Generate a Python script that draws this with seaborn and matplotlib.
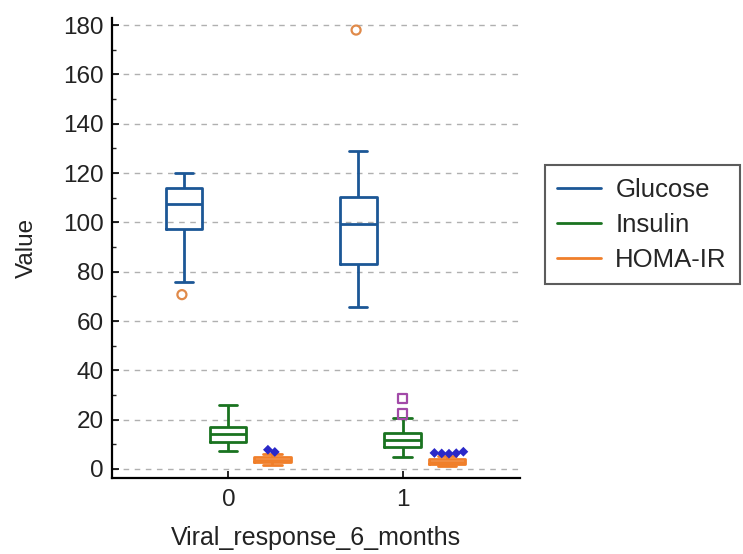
import matplotlib
matplotlib.use("Agg")
import matplotlib.pyplot as plt
import seaborn as sns
import pandas as pd
from matplotlib.lines import Line2D
from matplotlib.ticker import MultipleLocator

# ---- data (five-number summaries) ----
groups = ["0", "1"]
variables = ["Glucose", "Insulin", "HOMA-IR"]
# [whisker low, Q1, median, Q3, whisker high]
glucose_0 = [76, 97.5, 107.3, 113.8, 120]
glucose_1 = [65.8, 83, 99.5, 110.5, 128.8]
insulin_0 = [7.3, 11, 14.2, 17, 25.8]
insulin_1 = [4.9, 9, 11.8, 14.6, 20.7]
homa_0 = [1.5, 2.8, 3.8, 4.9, 6.0]
homa_1 = [1.2, 2.0, 3.0, 4.0, 5.2]
# outliers
glucose_out_0 = [70.7]
glucose_out_1 = [178]
insulin_out_0 = []
insulin_out_1 = [22.3, 28.4]
homa_out_0 = [6.9, 7.8]
homa_out_1 = [6.2, 6.3, 6.4, 6.5, 7.0]

box_colors = {"Glucose": "#1c5796", "Insulin": "#1a7320", "HOMA-IR": "#f07f2a"}
out_colors = {"Glucose": "#e08a4a", "Insulin": "#a24aa8", "HOMA-IR": "#2a28c8"}
out_markers = {"Glucose": "o", "Insulin": "s", "HOMA-IR": "D"}

rows = []
for g, vals in [("0", glucose_0), ("1", glucose_1)]:
    rows += [(g, "Glucose", v) for v in vals]
for g, vals in [("0", insulin_0), ("1", insulin_1)]:
    rows += [(g, "Insulin", v) for v in vals]
for g, vals in [("0", homa_0), ("1", homa_1)]:
    rows += [(g, "HOMA-IR", v) for v in vals]
df = pd.DataFrame(rows, columns=["Viral_response_6_months", "Variable", "Value"])

orows = []
for g, vals in [("0", glucose_out_0), ("1", glucose_out_1)]:
    orows += [(g, "Glucose", v) for v in vals]
for g, vals in [("0", insulin_out_0), ("1", insulin_out_1)]:
    orows += [(g, "Insulin", v) for v in vals]
for g, vals in [("0", homa_out_0), ("1", homa_out_1)]:
    orows += [(g, "HOMA-IR", v) for v in vals]
dfo = pd.DataFrame(orows, columns=["Viral_response_6_months", "Variable", "Value"])

sns.set_style("white")
plt.rcParams["font.family"] = ["Liberation Sans", "DejaVu Sans"]

fig = plt.figure(figsize=(7.43, 5.54), dpi=100)
ax = fig.add_axes([0.151, 0.137, 0.549, 0.831])

sns.boxplot(data=df, x="Viral_response_6_months", y="Value", hue="Variable",
            order=groups, hue_order=variables, palette=box_colors,
            fill=False, width=0.76, gap=0.18, showfliers=False,
            linewidth=2, whis=1.5, legend=False, ax=ax)

n_before = len(ax.collections)
for var in ["Glucose", "Insulin"]:
    sub = dfo[dfo["Variable"] == var]
    if len(sub) == 0:
        continue
    sns.stripplot(data=sub, x="Viral_response_6_months", y="Value", hue="Variable",
                  order=groups, hue_order=variables, palette=out_colors,
                  dodge=True, jitter=False, marker=out_markers[var],
                  size=6.5, linewidth=1.5, legend=False, ax=ax, zorder=5)
for coll in ax.collections[n_before:]:
    fc = coll.get_facecolor()
    if len(fc):
        c = fc[0][:3]
        coll.set_facecolor("none")
        coll.set_edgecolor(c)
        coll.set_linewidth(1.6)

sub = dfo[dfo["Variable"] == "HOMA-IR"]
sns.swarmplot(data=sub, x="Viral_response_6_months", y="Value", hue="Variable",
              order=groups, hue_order=variables, palette=out_colors,
              dodge=True, marker="D", size=5, linewidth=0,
              legend=False, ax=ax, zorder=5)

ax.set_xlim(-0.667, 1.675)
ax.set_ylim(-3.7, 183)
ax.yaxis.set_major_locator(MultipleLocator(20))
ax.yaxis.set_minor_locator(MultipleLocator(10))
ax.grid(axis="y", which="major", linestyle=(0, (4, 4)), color="#b0b0b0", linewidth=1)
ax.set_axisbelow(True)

for s in ["top", "right"]:
    ax.spines[s].set_visible(False)
for s in ["left", "bottom"]:
    ax.spines[s].set_color("black")
    ax.spines[s].set_linewidth(1.6)

ax.tick_params(axis="y", which="major", direction="in", length=5, width=1.2,
               labelsize=17.5, colors="black", left=True, pad=6)
ax.tick_params(axis="y", which="minor", direction="in", length=3, width=1, left=True)
ax.tick_params(axis="x", which="major", direction="in", length=5, width=1.2,
               labelsize=17.5, colors="black", bottom=True, pad=8)
for lab in ax.get_yticklabels() + ax.get_xticklabels():
    lab.set_color("#222222")

ax.set_xlabel("Viral_response_6_months", fontsize=18, color="#222222", labelpad=11)
ax.set_ylabel("Value", fontsize=17.5, color="#222222", labelpad=18)

handles = [Line2D([0], [0], color=box_colors[v], lw=2) for v in variables]
leg = fig.legend(handles, variables, loc="upper left", bbox_to_anchor=(0.733, 0.702),
                 frameon=True, fancybox=False, edgecolor="#333333", fontsize=18.5,
                 handlelength=1.7, handletextpad=0.55, borderpad=0.5,
                 labelspacing=0.42, borderaxespad=0)
leg.get_frame().set_linewidth(1.5)

fig.savefig("out.png", dpi=100)
